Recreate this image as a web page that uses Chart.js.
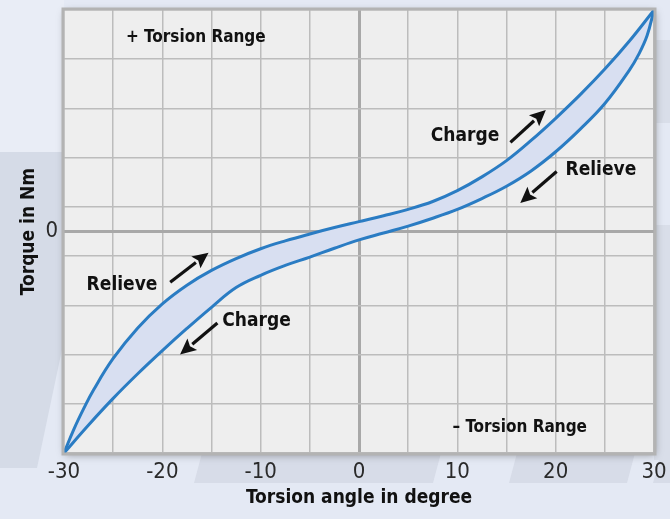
<!DOCTYPE html>
<html>
<head>
<meta charset="utf-8">
<script src="https://cdn.jsdelivr.net/npm/chart.js@4/dist/chart.umd.min.js"></script>
<style>
  body { margin: 0; background: #e5eaf4; }
  #wrap { width: 670px; height: 519px; }
</style>
</head>
<body>
<div id="wrap"><canvas id="chart_torsion" width="670" height="519"></canvas></div>
<script>
// torsion angle (degree) / torque
let angle_upper = [-30, -29, -28, -27, -25, -22.5, -20, -17.5, -15, -12.5, -10, -7.5, -5, -2.5, 0, 2.5, 5, 7.5, 10, 12.5, 15, 17.5, 20, 22.5, 25, 27.5, 30];
let torque_upper = [-45, -40.2, -36.0, -32.2, -25.8, -19.6, -14.7, -10.9, -7.9, -5.5, -3.5, -1.9, -0.5, 0.8, 2.0, 3.2, 4.5, 6.1, 8.3, 11.1, 14.4, 18.5, 23.0, 27.8, 33.0, 38.7, 45];

let angle_lower = [-30, -27.5, -25, -22.5, -20, -17.5, -15, -12.5, -10, -7.5, -5, -2.5, 0, 2.5, 5, 7.5, 10, 12.5, 15, 17.5, 20, 22.5, 25, 27.5, 28.5, 29.3, 30];
let torque_lower = [-45, -39.3, -33.9, -28.9, -24.2, -19.7, -15.4, -11.4, -8.9, -6.9, -5.2, -3.4, -1.7, -0.3, 1.1, 2.7, 4.5, 6.7, 9.2, 12.3, 16.2, 20.8, 26.0, 32.8, 36.2, 39.8, 45];

// grid / tick values
let x_grid = [-30, -25, -20, -15, -10, -5, 0, 5, 10, 15, 20, 25, 30];
let y_grid = [-45, -35, -25, -15, -5, 0, 5, 15, 25, 35, 45];

// labels inside the plot (data coords)
let note_texts = ['+ Torsion Range', '\u2013 Torsion Range', 'Charge', 'Relieve', 'Relieve', 'Charge'];
let note_size = [17, 17, 19, 19, 19, 19];
let note_x = [-23.7, 9.5, 7.3, 21.0, -27.7, -13.9];
let note_y = [39.4, -39.8, 19.3, 12.4, -10.8, -18.1];

// arrows: tail -> tip (data coords)
let arrow_from = [[15.4, 18.1], [20.1, 12.2], [-19.2, -10.3], [-14.4, -18.6]];
let arrow_to = [[19.0, 24.7], [16.4, 5.8], [-15.3, -4.3], [-18.2, -25.0]];

const FONT = "'Liberation Sans Narrow', 'DejaVu Sans Condensed', 'Roboto', sans-serif";

const toPoints = (xs, ys) => xs.map((x, i) => ({ x: x, y: ys[i] }));

// background panels + plot frame
const backdrop = {
    id: 'backdrop',
    beforeDraw(chart) {
        const ctx = chart.ctx;
        const a = chart.chartArea;
        ctx.save();
        ctx.fillStyle = '#e4e9f4';
        ctx.fillRect(0, 0, chart.width, chart.height);
        ctx.fillStyle = '#e9edf6';
        ctx.fillRect(0, 0, a.left, 152);
        // left panel
        ctx.fillStyle = '#d5dbe7';
        ctx.beginPath();
        ctx.moveTo(0, 152);
        ctx.lineTo(a.left, 152);
        ctx.lineTo(a.left, 340);
        ctx.lineTo(37, 468);
        ctx.lineTo(0, 468);
        ctx.closePath();
        ctx.fill();
        // strips below the axis
        const bands = [[197, 436], [512, 630], [656, 700]];
        ctx.fillStyle = '#d7dce8';
        bands.forEach(b => {
            ctx.beginPath();
            ctx.moveTo(b[0] + 5, a.bottom);
            ctx.lineTo(b[1] + 5, a.bottom);
            ctx.lineTo(b[1] - 3, 483);
            ctx.lineTo(b[0] - 3, 483);
            ctx.closePath();
            ctx.fill();
        });
        // right side
        ctx.fillStyle = '#d9dee9';
        ctx.fillRect(a.right, 40, 30, 83);
        ctx.beginPath();
        ctx.moveTo(a.right, 225);
        ctx.lineTo(700, 225);
        ctx.lineTo(700, 460);
        ctx.lineTo(a.right, 460);
        ctx.closePath();
        ctx.fill();
        // plot area with shadow
        ctx.shadowColor = 'rgba(0,0,0,0.35)';
        ctx.shadowBlur = 8;
        ctx.shadowOffsetX = 1;
        ctx.shadowOffsetY = 2;
        ctx.fillStyle = '#eeeeee';
        ctx.fillRect(a.left, a.top, a.right - a.left, a.bottom - a.top);
        ctx.restore();
    },
    afterDatasetsDraw(chart) {
        const ctx = chart.ctx;
        const a = chart.chartArea;
        const xs = chart.scales.x;
        const ys = chart.scales.y;
        ctx.save();
        ctx.strokeStyle = '#b3b3b3';
        ctx.lineWidth = 3;
        ctx.strokeRect(a.left - 1, a.top - 1, a.right - a.left + 2, a.bottom - a.top + 2);

        ctx.fillStyle = '#111';
        ctx.textBaseline = 'middle';
        ctx.textAlign = 'left';
        note_texts.forEach((t, i) => {
            ctx.font = 'bold ' + note_size[i] + 'px ' + FONT;
            ctx.fillText(t, xs.getPixelForValue(note_x[i]), ys.getPixelForValue(note_y[i]));
        });

        ctx.strokeStyle = '#111';
        ctx.lineWidth = 3.2;
        arrow_from.forEach((p, i) => {
            const x1 = xs.getPixelForValue(p[0]), y1 = ys.getPixelForValue(p[1]);
            const x2 = xs.getPixelForValue(arrow_to[i][0]), y2 = ys.getPixelForValue(arrow_to[i][1]);
            const ang = Math.atan2(y2 - y1, x2 - x1);
            const hl = 16, hw = 7.5;
            const bx = x2 - hl * Math.cos(ang), by = y2 - hl * Math.sin(ang);
            ctx.beginPath();
            ctx.moveTo(x1, y1);
            ctx.lineTo(bx, by);
            ctx.stroke();
            ctx.beginPath();
            ctx.moveTo(x2, y2);
            ctx.lineTo(bx + hw * Math.sin(ang), by - hw * Math.cos(ang));
            ctx.lineTo(bx + 3 * Math.cos(ang), by + 3 * Math.sin(ang));
            ctx.lineTo(bx - hw * Math.sin(ang), by + hw * Math.cos(ang));
            ctx.closePath();
            ctx.fill();
        });
        ctx.restore();
    }
};

const gridColor = c => c.tick && c.tick.value === 0 ? '#a8a8a8' : '#bcbcbc';
const gridWidth = c => c.tick && c.tick.value === 0 ? 3 : 1.5;

let chart = new Chart(document.getElementById('chart_torsion'), {
    type: 'scatter',
    data: {
        datasets: [{
            label: 'upper',
            data: toPoints(angle_upper, torque_upper),
            showLine: true,
            borderColor: '#2a7cc3',
            borderWidth: 3,
            pointRadius: 0,
            tension: 0.4,
            fill: false
        }, {
            label: 'lower',
            data: toPoints(angle_lower, torque_lower),
            showLine: true,
            borderColor: '#2a7cc3',
            borderWidth: 3,
            pointRadius: 0,
            tension: 0.4,
            fill: { target: '-1' },
            backgroundColor: '#d8dff1'
        }]
    },
    options: {
        responsive: false,
        animation: false,
        layout: { padding: { left: 0, right: 16, top: 10, bottom: 0 } },
        plugins: {
            legend: { display: false },
            tooltip: { enabled: false },
            filler: { drawTime: 'beforeDatasetsDraw' }
        },
        scales: {
            x: {
                type: 'linear',
                min: -30,
                max: 30,
                afterBuildTicks: s => { s.ticks = x_grid.map(v => ({ value: v })); },
                afterFit: s => { s.height = 66; s.paddingLeft = 0; s.paddingRight = 0; },
                border: { display: false },
                grid: { color: gridColor, lineWidth: gridWidth, drawTicks: false },
                ticks: {
                    padding: 6,
                    autoSkip: false,
                    maxRotation: 0,
                    color: '#2a2a2a',
                    font: { family: FONT, size: 22 },
                    callback: v => v % 10 === 0 ? String(v) : ''
                },
                title: {
                    display: true,
                    text: 'Torsion angle in degree',
                    color: '#111',
                    font: { family: FONT, size: 19, weight: 'bold' },
                    padding: { top: 0, bottom: 10 }
                }
            },
            y: {
                type: 'linear',
                min: -45,
                max: 45,
                afterBuildTicks: s => { s.ticks = y_grid.map(v => ({ value: v })); },
                afterFit: s => { s.width = 64; s.paddingTop = 0; s.paddingBottom = 0; },
                border: { display: false },
                grid: { color: gridColor, lineWidth: gridWidth, drawTicks: false },
                ticks: {
                    padding: 6,
                    autoSkip: false,
                    color: '#2a2a2a',
                    font: { family: FONT, size: 22 },
                    callback: v => v === 0 ? '0' : ''
                },
                title: {
                    display: true,
                    text: 'Torque in Nm',
                    color: '#111',
                    font: { family: FONT, size: 19, weight: 'bold' },
                    padding: { top: 18, bottom: 0 }
                }
            }
        }
    },
    plugins: [backdrop]
});
</script>
</body>
</html>
